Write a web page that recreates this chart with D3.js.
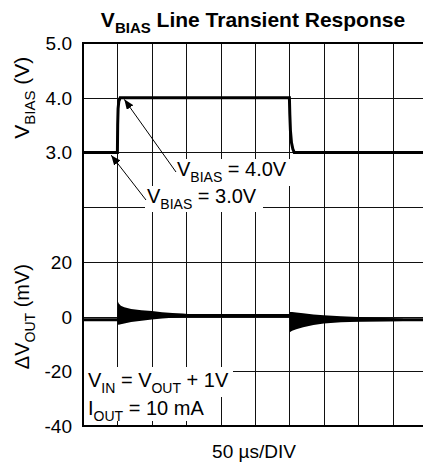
<!DOCTYPE html>
<html>
<head>
<meta charset="utf-8">
<script src="https://cdn.jsdelivr.net/npm/d3@7"></script>
<style>
  body { margin: 0; background: #fff; }
  text { font-family: "Liberation Sans", Arial, sans-serif; fill: #000; }
</style>
</head>
<body>
<div id="container"></div>
<script>
/* CONSTANTS AND GLOBALS */
const width = 423,
  height = 468,
  plot = { left: 83, right: 427, top: 43, bottom: 426 };

/* DATA */
// V_BIAS step, time in µs (50 µs/DIV), volts
const biasTime = [0, 50, 50.4, 51, 52, 54, 300, 300.6, 301.5, 303, 305, 307, 500];
const biasVolts = [3.0, 3.0, 3.5, 3.8, 3.93, 4.0, 4.0, 3.7, 3.4, 3.18, 3.06, 3.0, 3.0];

// ΔV_OUT settled trace, mV
const outTime = [0, 50, 60, 180, 300, 310, 500];
const outMv = [-1.2, -1.2, 0.4, 0.4, 0.4, -1.2, -1.2];

// ringing envelope after the rising step
const ring1Time = [50, 50.5, 52, 55, 60, 70, 85, 100, 115, 130, 145, 160];
const ring1Hi = [0.0, 5.6, 4.8, 4.0, 3.4, 2.8, 2.3, 2.0, 1.6, 1.3, 1.1, 0.8];
const ring1Lo = [-1.2, -2.9, -3.0, -2.8, -2.5, -2.0, -1.5, -1.1, -0.7, -0.4, -0.2, 0.1];

// ringing envelope after the falling step
const ring2Time = [300, 300.5, 304, 310, 320, 335, 350, 375, 400, 425, 450, 465];
const ring2Hi = [0.4, 1.7, 1.7, 1.5, 1.2, 0.8, 0.5, 0.1, -0.2, -0.4, -0.6, -0.8];
const ring2Lo = [0.4, -5.7, -5.2, -4.6, -3.9, -3.1, -2.5, -2.1, -1.9, -1.8, -1.7, -1.6];

// tick labels
const biasTicks = [3.0, 4.0, 5.0];
const mvTicks = [-40, -20, 0, 20];

/* SCALES */
const xScale = d3.scaleLinear()
  .domain([0, 500])
  .range([plot.left, plot.right]);

// the lower half in mV sets the grid rows (7 divisions)
const yMv = d3.scaleLinear()
  .domain([-40, 100])
  .range([plot.bottom, plot.top]);

// the upper half in volts shares the top three rows
const yBias = d3.scaleLinear()
  .domain([3, 5])
  .range([yMv(60), yMv(100)]);

/* HTML ELEMENTS */
const svg = d3.select("#container")
  .append("svg")
  .attr("width", width)
  .attr("height", height);

// grid
const grid = svg.append("g").attr("stroke", "#111").attr("stroke-width", 1);
grid.selectAll(".vgrid")
  .data(xScale.ticks(10))
  .join("line")
  .attr("x1", d => Math.round(xScale(d)) + 0.5)
  .attr("x2", d => Math.round(xScale(d)) + 0.5)
  .attr("y1", plot.top)
  .attr("y2", plot.bottom);
grid.selectAll(".hgrid")
  .data(yMv.ticks(7))
  .join("line")
  .attr("x1", plot.left)
  .attr("x2", plot.right)
  .attr("y1", d => Math.round(yMv(d)) + 0.5)
  .attr("y2", d => Math.round(yMv(d)) + 0.5);

// frame
svg.append("rect")
  .attr("x", plot.left)
  .attr("y", plot.top)
  .attr("width", plot.right - plot.left)
  .attr("height", plot.bottom - plot.top)
  .attr("fill", "none")
  .attr("stroke", "#000")
  .attr("stroke-width", 2);

// white boxes behind the annotations
const boxes = [[175, 159, 116, 27], [145, 186, 118, 26], [84, 367, 149, 30], [84, 397, 135, 24]];
svg.selectAll(".box")
  .data(boxes)
  .join("rect")
  .attr("x", d => d[0]).attr("y", d => d[1])
  .attr("width", d => d[2]).attr("height", d => d[3])
  .attr("fill", "#fff");

/* TRACES */
const biasLine = d3.line()
  .x((d, i) => xScale(biasTime[i]))
  .y(d => yBias(d));
svg.append("path")
  .attr("d", biasLine(biasVolts))
  .attr("fill", "none")
  .attr("stroke", "#000")
  .attr("stroke-width", 3);

const outLine = d3.line()
  .x((d, i) => xScale(outTime[i]))
  .y(d => yMv(d));
svg.append("path")
  .attr("d", outLine(outMv))
  .attr("fill", "none")
  .attr("stroke", "#000")
  .attr("stroke-width", 3);

const ringArea = (time, hi, lo) => d3.area()
  .x((d, i) => xScale(time[i]))
  .y0((d, i) => yMv(lo[i]))
  .y1((d, i) => yMv(hi[i]))(time);
svg.append("path").attr("d", ringArea(ring1Time, ring1Hi, ring1Lo)).attr("fill", "#000");
svg.append("path").attr("d", ringArea(ring2Time, ring2Hi, ring2Lo)).attr("fill", "#000");

/* ARROWS */
svg.append("defs").append("marker")
  .attr("id", "head")
  .attr("viewBox", "0 0 10 8")
  .attr("refX", 10).attr("refY", 4)
  .attr("markerWidth", 10).attr("markerHeight", 8)
  .attr("markerUnits", "userSpaceOnUse")
  .attr("orient", "auto")
  .append("path")
  .attr("d", "M0,0 L10,4 L0,8 Z")
  .attr("fill", "#000");

const arrows = [
  [176, 172, xScale(60), yBias(3.97)],
  [146, 200, xScale(41), yBias(2.95)]
];
svg.selectAll(".arrow")
  .data(arrows)
  .join("line")
  .attr("x1", d => d[0]).attr("y1", d => d[1])
  .attr("x2", d => d[2]).attr("y2", d => d[3])
  .attr("stroke", "#000")
  .attr("stroke-width", 1)
  .attr("marker-end", "url(#head)");

/* TEXT */
// helper: main text with subscript pieces [text, isSub, backUp]
function richText(sel, parts, size, subSize) {
  parts.forEach(p => {
    sel.append("tspan")
      .attr("font-size", p[1] ? subSize : size)
      .attr("dy", p[1] ? size * 0.28 : (p[2] ? -size * 0.28 : 0))
      .text(p[0]);
  });
  return sel;
}

richText(svg.append("text")
  .attr("x", 253).attr("y", 27)
  .attr("text-anchor", "middle")
  .attr("font-weight", "bold"),
  [["V"], ["BIAS", true], [" Line Transient Response", false, true]], 21, 15);

richText(svg.append("text").attr("x", 177).attr("y", 176),
  [["V"], ["BIAS", true], [" = 4.0V", false, true]], 20, 14);
richText(svg.append("text").attr("x", 147).attr("y", 203),
  [["V"], ["BIAS", true], [" = 3.0V", false, true]], 20, 14);
richText(svg.append("text").attr("x", 88).attr("y", 387),
  [["V"], ["IN", true], [" = V", false, true], ["OUT", true], [" + 1V", false, true]], 20, 14);
richText(svg.append("text").attr("x", 88).attr("y", 415),
  [["I"], ["OUT", true], [" = 10 mA", false, true]], 20, 14);

// axis tick labels
svg.selectAll(".biasTick")
  .data(biasTicks)
  .join("text")
  .attr("x", 72)
  .attr("y", d => yBias(d) + 7)
  .attr("text-anchor", "end")
  .attr("font-size", 19)
  .text(d => d.toFixed(1));

svg.selectAll(".mvTick")
  .data(mvTicks)
  .join("text")
  .attr("x", 72)
  .attr("y", d => yMv(d) + 7)
  .attr("text-anchor", "end")
  .attr("font-size", 19)
  .text(d => d);

// axis titles
richText(svg.append("text")
  .attr("transform", `translate(29, ${yBias(4)}) rotate(-90)`)
  .attr("text-anchor", "middle"),
  [["V"], ["BIAS", true], [" (V)", false, true]], 21, 15);

richText(svg.append("text")
  .attr("transform", `translate(29, ${yMv(0)}) rotate(-90)`)
  .attr("text-anchor", "middle"),
  [["ΔV"], ["OUT", true], [" (mV)", false, true]], 20, 14);

svg.append("text")
  .attr("x", 254).attr("y", 458)
  .attr("text-anchor", "middle")
  .attr("font-size", 19)
  .text("50 µs/DIV");
</script>
</body>
</html>
